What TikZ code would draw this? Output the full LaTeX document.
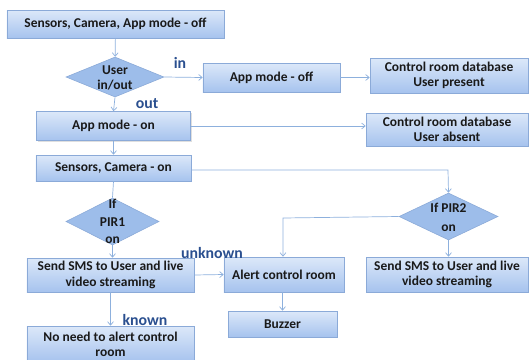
\documentclass[tikz,border=0pt]{standalone}
\usepackage{fontspec}
\setmainfont{Carlito}
\usetikzlibrary{shapes.geometric,arrows.meta,shadows}
\definecolor{boxtop}{HTML}{DCE8F9}
\definecolor{boxbot}{HTML}{A6C3EE}
\definecolor{boxline}{HTML}{8BAAD8}
\definecolor{dia}{HTML}{9DBDEA}
\definecolor{conn}{HTML}{8DB0DD}
\definecolor{lab}{HTML}{2A4F8F}
\definecolor{txt}{HTML}{1A1A1A}
\tikzset{
  x=0.03cm, y=-0.03cm,
  box/.style={rectangle, draw=boxline, line width=0.5pt, top color=boxtop, bottom color=boxbot,
    font=\fontsize{11.5}{13}\selectfont\bfseries, text=txt, align=center, inner sep=1pt,
    drop shadow={shadow xshift=1pt, shadow yshift=-1pt, opacity=0.25}},
  dia/.style={diamond, draw=boxline, line width=0.5pt, fill=dia, inner sep=0pt},
  diatext/.style={font=\fontsize{11.5}{13}\selectfont\bfseries, text=txt, align=center, inner sep=0pt},
  conn/.style={draw=conn, line width=0.6pt, -{Straight Barb[length=3pt,width=5pt]}},
  plain/.style={draw=conn, line width=0.6pt},
  lbl/.style={font=\fontsize{13.5}{14}\selectfont\bfseries, text=lab, inner sep=0pt},
}
\begin{document}
\begin{tikzpicture}
\useasboundingbox (0,0) rectangle (530,359);
\node[box, minimum width=6.51cm, minimum height=0.84cm] (s1) at (115.5,24) {Sensors, Camera, App mode - off};
\node[dia, minimum width=2.94cm, minimum height=1.2cm] (d1) at (115,77) {};
\node[diatext] (d1t) at (115,78) {User\\in/out};
\node[box, minimum width=4.11cm, minimum height=0.87cm] (aoff) at (271.5,77.5) {App mode - off};
\node[box, minimum width=4.74cm, minimum height=1.05cm] (dbp) at (449,75.5) {Control room database\\User present};
\node[box, minimum width=4.62cm, minimum height=0.87cm] (aon) at (113.5,126) {App mode - on};
\node[box, minimum width=4.86cm, minimum height=0.99cm] (dba) at (447,129.5) {Control room database\\User absent};
\node[box, minimum width=4.65cm, minimum height=0.78cm] (son) at (113.5,168) {Sensors, Camera - on};
\node[dia, minimum width=2.79cm, minimum height=1.41cm] (p1) at (112.5,221.5) {};
\node[diatext] (p1t) at (112.5,221.5) {If\\[2pt]PIR1\\[2pt]on};
\node[dia, minimum width=2.97cm, minimum height=1.41cm] (p2) at (448.5,216.5) {};
\node[diatext] (p2t) at (448.5,217) {If PIR2\\[3pt]on};
\node[box, minimum width=5.01cm, minimum height=1.02cm] (sms1) at (110.5,275) {Send SMS to User and live\\video streaming};
\node[box, minimum width=3.6cm, minimum height=1.05cm] (alert) at (284,274.5) {Alert control room};
\node[box, minimum width=4.86cm, minimum height=1.05cm] (sms2) at (447,274.5) {Send SMS to User and live\\video streaming};
\node[box, minimum width=3.27cm, minimum height=0.78cm] (buz) at (282.5,324) {Buzzer};
\node[box, minimum width=5.01cm, minimum height=1.08cm] (nn) at (110.5,344) {No need to alert control\\room};
\coordinate (c1) at (448,170);
\coordinate (c2) at (283,218);
\draw[conn] (s1) -- (d1);
\draw[conn] (d1.east) -- (aoff.west);
\draw[conn] (aoff.east) -- (dbp.west |- aoff.east);
\draw[conn] (d1.south) -- (aon.north);
\draw[conn] (aon.east) -- (dba.west |- aon.east);
\draw[conn] (aon) -- (son);
\draw[plain] (son.south) -- (p1.north);
\draw[conn] (son.east |- c1) -- (c1) -- (p2.north);
\draw[conn] (p1.south) -- (sms1.north -| p1.south);
\draw[conn] (p2.west) -- (c2) -- (c2 |- alert.north);
\draw[conn] (p2.south) -- (sms2.north -| p2.south);
\draw[conn] (sms1.east) -- (alert.west);
\draw[conn] (sms1.south) -- (nn.north);
\draw[conn] (alert.south -| buz.north) -- (buz.north);
\node[lbl] (lin) at (180,63) {in};
\node[lbl] (lout) at (147,104) {out};
\node[lbl] (lunk) at (212,253) {unknown};
\node[lbl] (lkn) at (145,320) {known};
\end{tikzpicture}
\end{document}
